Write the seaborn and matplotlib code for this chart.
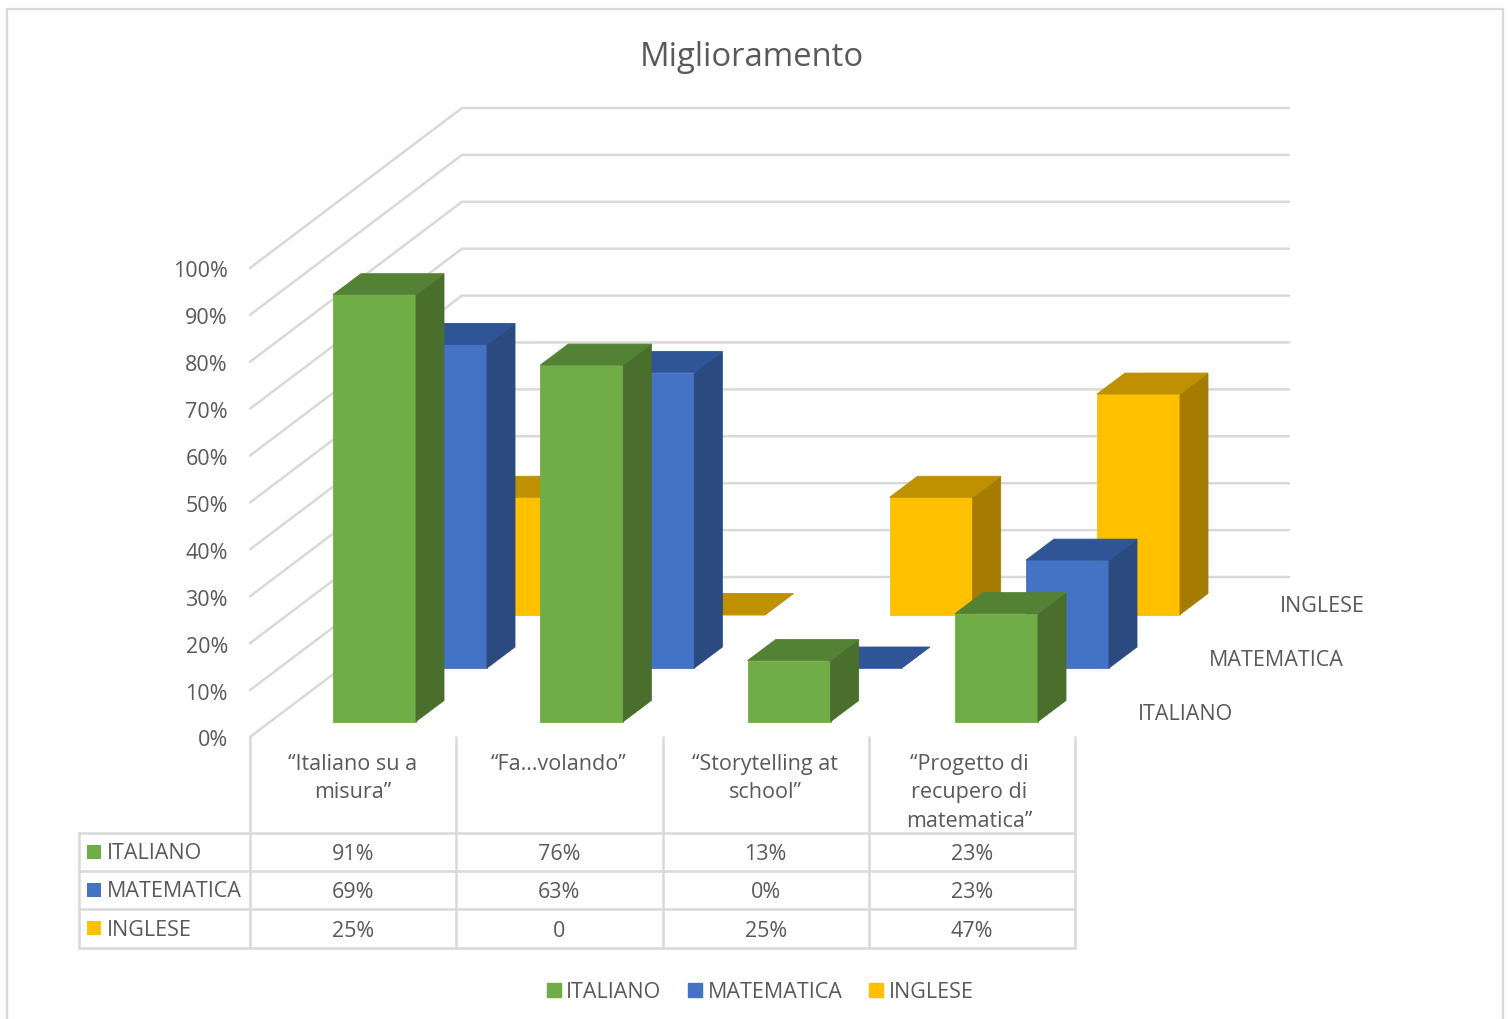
import pandas as pd
import numpy as np
import matplotlib.pyplot as plt
import seaborn as sns
from matplotlib.patches import Patch

title = "Miglioramento"
categories = ["“Italiano su a\nmisura”", "“Fa…volando”", "“Storytelling at\nschool”",
              "“Progetto di\nrecupero di\nmatematica”"]
series_names = ["ITALIANO", "MATEMATICA", "INGLESE"]
italiano = [91, 76, 13, 23]
matematica = [69, 63, 0, 23]
inglese = [25, 0, 25, 47]
italiano_labels = ["91%", "76%", "13%", "23%"]
matematica_labels = ["69%", "63%", "0%", "23%"]
inglese_labels = ["25%", "0", "25%", "47%"]
y_ticks = [0, 10, 20, 30, 40, 50, 60, 70, 80, 90, 100]

front_cols = ["#70AD47", "#4472C4", "#FFC000"]
side_cols = ["#4A6E2B", "#2A4A80", "#A67C00"]
top_cols = ["#548235", "#2F5597", "#BF9000"]
grid_col = "#D9D9D9"
text_col = "#595959"

W, H = 1510, 1020
cat_px = 207.33    # px per category
pct_px = 4.69      # px per percent
x_ref, y_ref = 374.5, 722.5   # first italiano bar centre / baseline
row_dx, row_dy = 71, 53.5   # shift from one series row to the next
side_dx, side_dy = 28, 21   # bar depth
bar_w = 83 / cat_px

sns.set_theme(style="white")
plt.rcParams['font.family'] = ['Open Sans', 'DejaVu Sans']

fig = plt.figure(figsize=(W / 100, H / 100), dpi=100, facecolor="white")

# pixel axes for frame, walls and table
bg = fig.add_axes([0, 0, 1, 1])
bg.set_xlim(0, W)
bg.set_ylim(H, 0)
bg.axis("off")

bg.plot([7, 7, 1503, 1503], [1020, 10, 10, 1020], color=grid_col, lw=1.6)
bg.text(751.5, 58, title, ha="center", va="center", fontsize=23.7, color=text_col)

for t in y_ticks:
    yf = 738 - t * pct_px
    bg.plot([250, 462, 1289], [yf, yf - 160, yf - 160], color=grid_col, lw=1.8,
            solid_joinstyle="miter")
    bg.text(228, yf + 3, f"{t}%", ha="right", va="center", fontsize=15.5, color=text_col)

# depth axis labels
for name, x, y in zip(series_names, [1138, 1209, 1280], [715, 661, 607]):
    bg.text(x, y, name, ha="left", va="center", fontsize=15.5, color=text_col)

# data table
col_x = [250 + i * 206.25 for i in range(5)]
row_y = [833.7, 871.7, 910.2, 948.5]
label_shift = [-0.5, -0.5, -0.5, -3]
for x in col_x:
    bg.plot([x, x], [738, 948.5], color=grid_col, lw=1.8)
bg.plot([79, 79], [833.7, 948.5], color=grid_col, lw=1.8)
for y in row_y:
    bg.plot([79, col_x[-1]], [y, y], color=grid_col, lw=1.8)
for i, c in enumerate(categories):
    bg.text((col_x[i] + col_x[i + 1]) / 2 + label_shift[i], 754, c, ha="center", va="top",
            fontsize=15.5, color=text_col, linespacing=1.46)
rows = [italiano_labels, matematica_labels, inglese_labels]
for r, labels in enumerate(rows):
    yc = (row_y[r] + row_y[r + 1]) / 2
    bg.add_patch(plt.Rectangle((87, yc - 7), 14, 14, color=front_cols[r], lw=0))
    bg.text(107, yc + 1, series_names[r], ha="left", va="center", fontsize=15.5, color=text_col)
    for i, lab in enumerate(labels):
        bg.text((col_x[i] + col_x[i + 1]) / 2, yc + 2, lab, ha="center", va="center",
                fontsize=15.5, color=text_col)

# bars, x in categories and y in percent
ax = fig.add_axes([0, 0, 1, 1])
ax.patch.set_alpha(0)
dx_row, dy_row = row_dx / cat_px, row_dy / pct_px
dx_side, dy_side = side_dx / cat_px, side_dy / pct_px

values = [italiano, matematica, inglese]
for r in [2, 1, 0]:
    df = pd.DataFrame({"pos": np.arange(len(categories)) + r * dx_row, "val": values[r]})
    base = r * dy_row
    sns.barplot(data=df, x="pos", y="val", native_scale=True, width=bar_w, errorbar=None,
                color=front_cols[r], saturation=1, bottom=base, ax=ax,
                edgecolor=front_cols[r], linewidth=0.6)
    for p, v in zip(df["pos"], df["val"]):
        l, rt = p - bar_w / 2, p + bar_w / 2
        top = base + v
        ax.fill([rt, rt + dx_side, rt + dx_side, rt],
                [base, base + dy_side, top + dy_side, top], color=side_cols[r], lw=0.6)
        ax.fill([l, l + dx_side, rt + dx_side, rt],
                [top, top + dy_side, top + dy_side, top], color=top_cols[r], lw=0.6)

ax.set_xlim(-x_ref / cat_px, (W - x_ref) / cat_px)
ax.set_ylim(-(H - y_ref) / pct_px, y_ref / pct_px)
ax.axis("off")

handles = [Patch(color=c, label=n) for c, n in zip(front_cols, series_names)]
bg.legend(handles=handles, loc="center", bbox_to_anchor=(760 / W, 1 - 993 / H), ncol=3,
          frameon=False, fontsize=15.5, labelcolor=text_col, handlelength=0.65,
          handleheight=0.65, handletextpad=0.25, columnspacing=1.25)

plt.savefig("out.png", dpi=100)
